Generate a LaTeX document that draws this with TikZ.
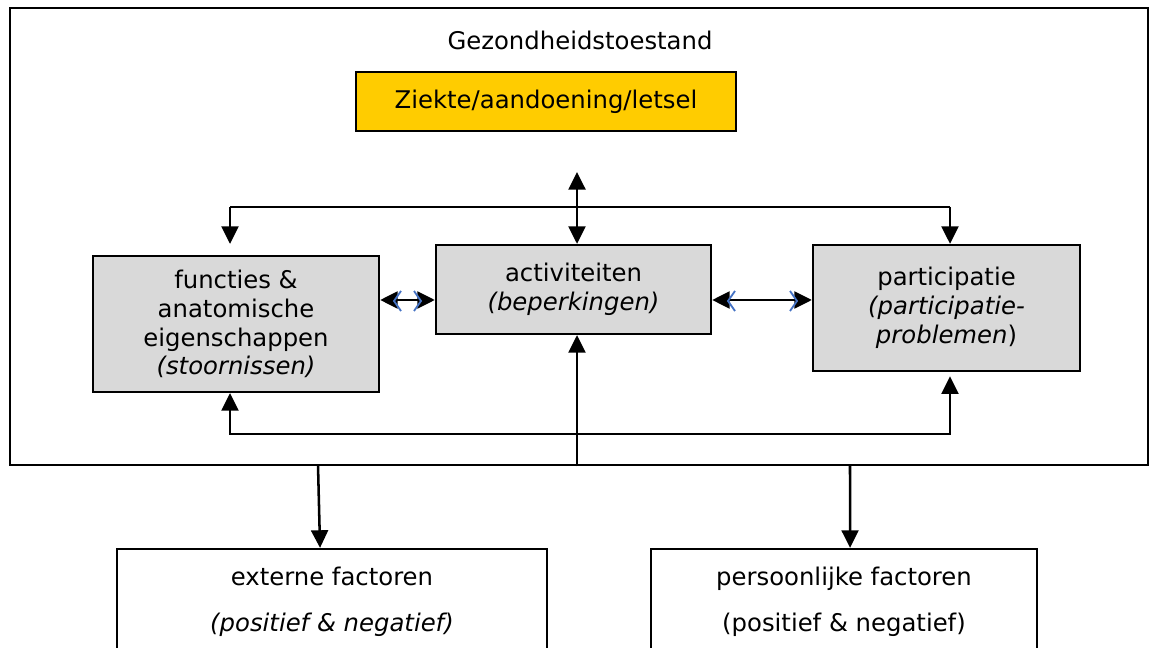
\documentclass[tikz,border=0pt]{standalone}
\usepackage{fontspec}
\setmainfont{DejaVu Sans}
\usetikzlibrary{arrows.meta}

\definecolor{geel}{HTML}{FFCC00}
\definecolor{grijs}{HTML}{D9D9D9}
\definecolor{chevblauw}{HTML}{4472C4}

\begin{document}
\begin{tikzpicture}
        [x=0.025cm, y=-0.025cm,
        font=\fontsize{17.3}{20.5}\selectfont,
        frame/.style={draw, line width=1.7pt, inner sep=0pt},
        ziekte/.style={draw, line width=1.3pt, fill=geel, inner sep=0pt, minimum width=9.5cm, minimum height=1.475cm},
        comp/.style={draw, line width=1.6pt, fill=grijs, inner sep=0pt, align=center},
        factor/.style={draw, line width=1.6pt, inner sep=0pt, align=center, minimum height=2.65cm},
        link/.style={line width=1.8pt, black},
        tip/.style={-{Triangle[length=12.5pt, width=12pt]}},
        tips/.style={{Triangle[length=12.5pt, width=12pt]}-{Triangle[length=12.5pt, width=12pt]}},
        chev/.style={chevblauw, line width=1.3pt}]

        \useasboundingbox (0,0) rectangle (1151,648);
        \clip (0,0) rectangle (1151,648);

        \node[frame, minimum width=28.45cm, minimum height=11.425cm] (gez) at (579,236.5) {};
        \node (titel) at (580,40) {Gezondheidstoestand};
        \node[ziekte] (zie) at (546,101.5) {Ziekte/aandoening/letsel};

        \node[comp, minimum width=7.15cm, minimum height=3.4cm] (fun) at (236,324)
            {functies \&\\anatomische\\eigenschappen\\\textit{(stoornissen)}};
        \node[comp, minimum width=6.875cm, minimum height=2.225cm] (act) at (573.5,289.5)
            {activiteiten\\\textit{(beperkingen)}};
        \node[comp, minimum width=6.675cm, minimum height=3.15cm] (par) at (946.5,308)
            {participatie\\\textit{(participatie-}\\\textit{problemen})};

        \node[factor, minimum width=10.75cm] (ext) at (332,602)
            {externe factoren\\[12pt]\textit{(positief \& negatief)}};
        \node[factor, minimum width=9.65cm] (pers) at (844,602)
            {persoonlijke factoren\\[12pt](positief \& negatief)};

        \coordinate (ztop) at (577,172);
        \coordinate (tl) at (230,207);
        \coordinate (tr) at (950,207);
        \coordinate (bl) at (230,434);
        \coordinate (br) at (950,434);
        \coordinate (ly) at (0,300);

        % top bracket
        \draw[link, tips] (ztop) -- (ztop |- act.north);
        \draw[link] (tl) -- (tr);
        \draw[link, tip] (tl) -- (tl |- act.north);
        \draw[link, tip] (tr) -- (tr |- par.north);

        % bottom bracket
        \draw[link, tips] (bl |- fun.south) -- (bl) -- (br) -- ([yshift=-3pt]br |- par.south);
        \draw[link, tip] (ztop |- gez.south) -- (ztop |- act.south);

        % between the boxes
        \draw[link, tips] (fun.east |- ly) -- (act.west |- ly);
        \draw[link, tips] (act.east |- ly) -- (par.west |- ly);
        \foreach \x/\s in {394/1, 421/-1, 728/1, 797/-1}
            \draw[chev] (\x+7*\s,291) -- (\x,301) -- (\x+7*\s,311);

        % factors
        \draw[link, tip] (318,465) -- ([xshift=-8.5pt]ext.north);
        \draw[link, tip] (850,465) -- ([xshift=4.3pt]pers.north);

    \end{tikzpicture}
\end{document}
